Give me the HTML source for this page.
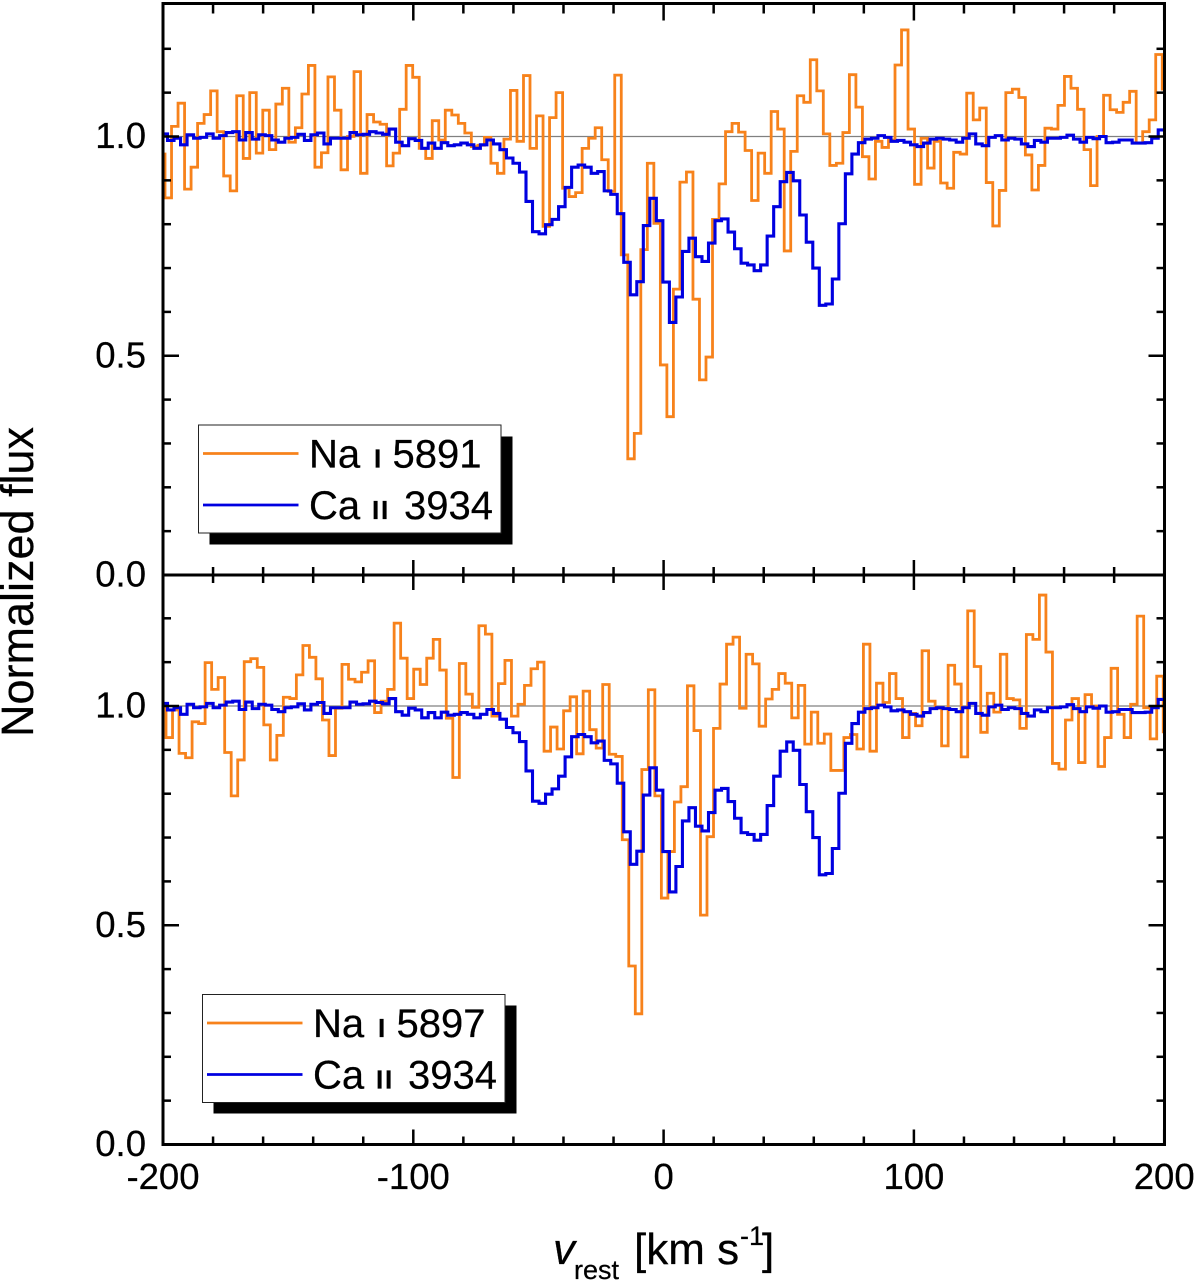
<!DOCTYPE html>
<html lang="en">
<head>
<meta charset="utf-8">
<title>Normalized flux spectra</title>
<style>
html,body{margin:0;padding:0;background:#fff;}
svg{display:block;}
text{font-family:"Liberation Sans",sans-serif;fill:#000;stroke:#000;stroke-width:0.25px;}
</style>
</head>
<body>
<svg id="chart" xmlns="http://www.w3.org/2000/svg" width="1200" height="1284" viewBox="0 0 1200 1284">
  <defs>
    <clipPath id="clip-top"><rect x="163" y="4" width="1001.5" height="571"/></clipPath>
    <clipPath id="clip-bottom"><rect x="163" y="575" width="1001.5" height="569.5"/></clipPath>
  </defs>
  <rect x="0" y="0" width="1200" height="1284" fill="#fff"/>
  <g id="panel-top"></g>
  <g id="panel-bottom"></g>
  <g id="axes"></g>

  <g>
    <rect x="209.5" y="436.5" width="303" height="108" fill="#000"/>
    <rect x="198.5" y="425" width="302.5" height="108" fill="#fff" stroke="#222" stroke-width="1"/>
    <line x1="203" x2="298.5" y1="453.5" y2="453.5" stroke="#f7821b" stroke-width="2.8"/>
    <text y="467.5" font-size="40"><tspan x="309">Na</tspan><tspan x="374" font-size="26" font-weight="bold">I</tspan><tspan x="392.5">5891</tspan></text>
    <line x1="203" x2="298.5" y1="505" y2="505" stroke="#0000e0" stroke-width="2.8"/>
    <text y="519" font-size="40"><tspan x="309">Ca</tspan><tspan x="372" font-size="26" font-weight="bold" letter-spacing="1.8">II</tspan><tspan x="404">3934</tspan></text>
  </g>

  <g>
    <rect x="213.5" y="1005.5" width="303" height="108" fill="#000"/>
    <rect x="202.5" y="994.5" width="302.5" height="108" fill="#fff" stroke="#222" stroke-width="1"/>
    <line x1="207" x2="302.5" y1="1023" y2="1023" stroke="#f7821b" stroke-width="2.8"/>
    <text y="1037" font-size="40"><tspan x="313">Na</tspan><tspan x="378" font-size="26" font-weight="bold">I</tspan><tspan x="396.5">5897</tspan></text>
    <line x1="207" x2="302.5" y1="1074.5" y2="1074.5" stroke="#0000e0" stroke-width="2.8"/>
    <text y="1088.5" font-size="40"><tspan x="313">Ca</tspan><tspan x="376" font-size="26" font-weight="bold" letter-spacing="1.8">II</tspan><tspan x="408">3934</tspan></text>
  </g>

  <text transform="translate(33,582) rotate(-90)" text-anchor="middle" font-size="45">Normalized flux</text>
  <g>
    <text x="553" y="1264" font-size="44" font-style="italic">v</text>
    <text x="574" y="1279" font-size="27">rest</text>
    <text x="634" y="1264" font-size="44">[km s</text>
    <text x="740" y="1245" font-size="27">-1</text>
    <text x="762" y="1264" font-size="44">]</text>
  </g>
</svg>

<script>
// --- Data ---
const na5891Flux = [
0.96,0.86,1.023,1.076,0.88,0.93,1.03,1.05,1.104,1.011,
0.91,0.876,1.093,0.95,1.10,0.962,1.06,0.97,1.074,1.11,
0.987,1.02,1.097,1.162,0.93,0.963,1.136,1.06,0.924,1.0,
1.148,0.916,1.05,1.033,1.028,0.933,0.962,1.062,1.162,1.135,
0.973,0.95,1.036,0.992,1.06,1.049,1.03,1.008,0.977,0.98,
0.998,0.939,0.916,0.994,1.105,0.989,1.139,0.973,1.047,0.795,
1.043,1.10,0.882,0.863,0.872,0.973,0.996,1.02,0.947,0.875,
1.14,0.73,0.265,0.323,0.742,0.939,0.802,0.479,0.361,0.652,
0.896,0.919,0.629,0.445,0.497,0.811,0.892,1.011,1.03,1.01,
0.968,0.854,0.962,0.916,1.057,1.017,0.739,0.966,1.093,1.078,
1.175,1.104,1.006,0.934,0.939,1.009,1.141,1.067,0.954,0.903,
0.989,0.975,0.992,1.163,1.243,1.017,0.891,0.996,0.928,0.989,
0.894,0.882,0.964,0.96,1.099,1.038,1.065,0.895,0.796,0.877,
1.10,1.108,1.089,0.958,0.878,0.934,1.019,1.017,1.071,1.137,
1.11,1.062,0.97,0.888,1.0,1.094,1.061,1.055,1.078,1.103,
0.985,1.011,1.038,1.187,1.108];

const na5897Flux = [
1.006,0.928,0.991,0.892,0.882,0.964,0.960,1.099,1.038,1.065,
0.894,0.795,0.877,1.101,1.108,1.088,0.957,0.877,0.933,1.02,
1.017,1.071,1.138,1.111,1.062,0.968,0.887,0.995,1.095,1.061,
1.055,1.077,1.103,0.985,1.011,1.038,1.189,1.109,1.017,1.084,
1.049,1.109,1.152,1.082,0.972,0.837,1.097,1.027,0.997,1.183,
1.164,0.977,1.051,1.104,0.977,1.004,1.047,1.085,1.10,0.897,
0.952,0.902,0.989,1.021,0.891,1.034,0.946,0.904,1.049,0.890,
0.885,0.695,0.407,0.298,0.855,1.037,0.795,0.562,0.668,0.781,
0.816,1.046,0.944,0.523,0.702,0.949,1.05,1.141,1.157,0.995,
1.118,1.096,0.954,1.016,1.038,1.074,1.052,0.973,1.047,0.913,
0.986,0.915,0.936,0.853,0.853,0.928,0.935,0.902,1.141,0.897,
1.052,1.008,1.074,1.017,0.928,0.983,0.955,1.126,1.011,0.995,
0.909,1.093,1.05,0.884,1.217,1.09,0.94,1.029,0.986,1.118,
1.017,1.014,0.949,1.163,1.152,1.253,1.123,0.869,0.856,0.968,
1.017,0.871,1.026,1.0,0.862,0.928,1.086,0.981,0.928,1.004,
1.205,0.996,0.925,1.068,0.941];

const ca3934Flux = [
1.006,0.991,0.996,0.981,1.004,0.996,0.998,1.006,0.996,1.002,
1.009,1.011,0.992,1.009,0.994,1.004,1.002,0.992,0.987,0.996,
0.998,1.005,0.991,1.004,1.008,0.983,0.996,0.996,0.996,1.009,
1.004,1.005,1.011,1.008,1.005,1.017,0.987,0.979,0.995,0.991,
0.973,0.985,0.973,0.986,0.979,0.981,0.985,0.981,0.973,0.981,
0.992,0.983,0.970,0.951,0.939,0.919,0.852,0.783,0.778,0.799,
0.811,0.840,0.884,0.930,0.935,0.930,0.916,0.920,0.876,0.868,
0.824,0.713,0.639,0.669,0.797,0.859,0.808,0.668,0.576,0.634,
0.738,0.768,0.726,0.715,0.757,0.808,0.812,0.782,0.744,0.711,
0.707,0.694,0.707,0.773,0.840,0.897,0.918,0.899,0.821,0.759,
0.700,0.615,0.618,0.675,0.801,0.915,0.960,0.986,0.994,0.996,
1.002,0.998,0.989,0.991,0.987,0.981,0.977,0.985,0.994,0.996,
0.994,0.992,0.987,0.996,1.006,0.983,0.979,0.998,1.002,0.992,
0.996,0.994,0.983,0.977,0.991,0.987,0.996,0.996,0.998,1.003,
0.994,0.987,0.998,0.995,1.0,0.986,0.987,0.992,0.992,0.985,
0.985,0.986,0.996,1.015];

const xMajorTicks = [-200,-100,0,100,200];
const xTickLabels = ["-200","-100","0","100","200"];
const xMinorTicks = [-180,-160,-140,-120,-80,-60,-40,-20,20,40,60,80,120,140,160,180];
const yMajorTicks = [0,0.5,1.0];
const yTickLabels = ["0.0","0.5","1.0"];
const yMinorTicks = [0.1,0.2,0.3,0.4,0.6,0.7,0.8,0.9,1.1,1.2];
const referenceLevel = 1.0;
const binWidth = 2.604;
const na5891BinStart = -201.8;
const na5897BinStart = -201.4;
const ca3934BinStart = -200.8;

// --- Axis functions ---
const NS = 'http://www.w3.org/2000/svg';
function xScale(v){ return 163 + (v + 200) * 2.503; }
function yTop(f){ return 575 - f * 438.5; }
function yBottom(f){ return 1144.5 - f * 438.5; }

function make(parent, tag, attrs){
  const el = document.createElementNS(NS, tag);
  for (const k in attrs) el.setAttribute(k, attrs[k]);
  parent.appendChild(el);
  return el;
}
function stepPath(values, start, yFn){
  let d = 'M' + xScale(start).toFixed(2) + ' ' + yFn(values[0]).toFixed(2);
  for (let i = 0; i < values.length; i++){
    const hi = start + (i + 1) * binWidth;
    d += 'H' + xScale(hi).toFixed(2);
    if (i + 1 < values.length) d += 'V' + yFn(values[i + 1]).toFixed(2);
  }
  return d;
}

function drawPanel(groupId, clipId, yFn, naValues, naStart, panelName){
  const g = document.getElementById(groupId);
  const ref = make(g, 'line', {x1: xScale(-200), x2: xScale(200), y1: yFn(referenceLevel), y2: yFn(referenceLevel), stroke: '#808080', 'stroke-width': 1.2});
  
  
  const na = make(g, 'path', {d: stepPath(naValues, naStart, yFn), fill: 'none', stroke: '#f7821b', 'stroke-width': 2.8, 'clip-path': 'url(#' + clipId + ')'});
  
  
  const ca = make(g, 'path', {d: stepPath(ca3934Flux, ca3934BinStart, yFn), fill: 'none', stroke: '#0000e0', 'stroke-width': 3.1, 'clip-path': 'url(#' + clipId + ')'});
  
  
}
drawPanel('panel-top', 'clip-top', yTop, na5891Flux, na5891BinStart, 'top-panel');
drawPanel('panel-bottom', 'clip-bottom', yBottom, na5897Flux, na5897BinStart, 'bottom-panel');

// --- Axes ---
const axes = document.getElementById('axes');
const TOP = 3.5, MID = 575, BOT = 1144.5, LEFT = 163, RIGHT = 1164.5;

function tick(x1, y1, x2, y2, w, name){
  const t = make(axes, 'line', {x1: x1, y1: y1, x2: x2, y2: y2, stroke: '#000', 'stroke-width': w});
  
  
}
function xTicks(values, len, name){
  values.forEach(function(v){
    const x = xScale(v);
    tick(x, TOP, x, TOP + len + 2, 2.5, name);
    tick(x, MID - len, x, MID + len, 2.5, name);
    tick(x, BOT - len, x, BOT, 2.5, name);
  });
}
xTicks(xMinorTicks, 8, 'x-minor-tick');
xTicks(xMajorTicks, 15, 'x-major-tick');

function yTicks(values, len, name){
  [yTop, yBottom].forEach(function(yFn){
    values.forEach(function(f){
      const y = yFn(f);
      tick(LEFT, y, LEFT + len, y, 2.5, name);
      tick(RIGHT - len, y, RIGHT, y, 2.5, name);
    });
  });
}
yTicks(yMinorTicks, 8, 'y-minor-tick');
yTicks(yMajorTicks, 16, 'y-major-tick');

const frame = make(axes, 'rect', {x: LEFT, y: TOP, width: RIGHT - LEFT, height: BOT - TOP, fill: 'none', stroke: '#000', 'stroke-width': 3});


const divider = make(axes, 'line', {x1: LEFT, x2: RIGHT, y1: MID, y2: MID, stroke: '#000', 'stroke-width': 3});



xMajorTicks.forEach(function(v, i){
  const t = make(axes, 'text', {x: xScale(v), y: 1189, 'font-size': 36.5, 'text-anchor': 'middle'});
  
  
  t.textContent = xTickLabels[i];
});
[yTop, yBottom].forEach(function(yFn){
  yMajorTicks.forEach(function(f, i){
    const t = make(axes, 'text', {x: 146, y: yFn(f) + 11.5, 'font-size': 36.5, 'text-anchor': 'end'});
    
    
    t.textContent = yTickLabels[i];
  });
});
</script>
</body>
</html>
